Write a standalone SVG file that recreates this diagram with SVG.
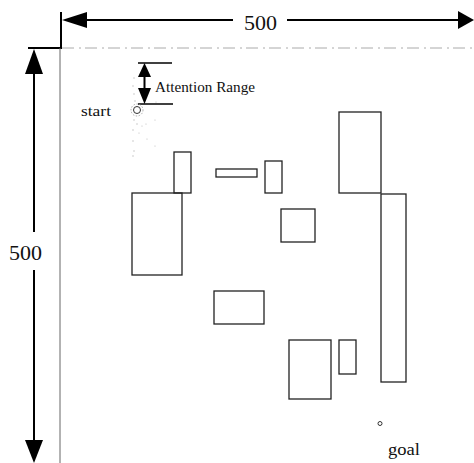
<svg xmlns="http://www.w3.org/2000/svg" width="474" height="463" viewBox="0 0 474 463">
<style>
.t{font-family:"Liberation Serif","Times New Roman",serif;fill:#111}
.dim{stroke:#000;stroke-width:2;fill:none}
.obs{fill:none;stroke:#222;stroke-width:1.3}
</style>
<rect width="474" height="463" fill="#fff"/>
<g id="connectors">
<line class="dim" x1="61" y1="12" x2="61" y2="48"/>
<path d="M62,20 L87,12 L87,28 Z" fill="#000"/>
<path d="M474,20 L458,11 L458,29 Z" fill="#000"/>
<line class="dim" x1="86" y1="20" x2="233" y2="20"/>
<line class="dim" x1="287" y1="20" x2="459" y2="20"/>
<line class="dim" x1="28" y1="48" x2="62" y2="48"/>
<path d="M34,49 L25,74 L43,74 Z" fill="#000"/>
<path d="M34,463 L25,440 L43,440 Z" fill="#000"/>
<line class="dim" x1="34" y1="73" x2="34" y2="232"/>
<line class="dim" x1="34" y1="270" x2="34" y2="441"/>
<line x1="62" y1="48" x2="474" y2="48" stroke="#aaa" stroke-width="1" stroke-dasharray="12,5,2,4"/>
<line x1="60" y1="48" x2="60" y2="463" stroke="#666" stroke-width="1"/>
<line x1="138" y1="63" x2="172" y2="63" stroke="#000" stroke-width="1.6"/>
<line x1="138" y1="104" x2="173" y2="104" stroke="#000" stroke-width="1.6"/>
<line x1="144.5" y1="74" x2="144.5" y2="90" stroke="#000" stroke-width="2"/>
<path d="M144.5,63 L138,77 L151,77 Z" fill="#000"/>
<path d="M144.5,104 L138,88 L151,88 Z" fill="#000"/>
</g>
<g id="attention-trace" fill="#bbb">
<circle cx="134" cy="78" r="0.7"/><circle cx="133" cy="86" r="0.7"/><circle cx="134" cy="94" r="0.7"/>
<circle cx="135" cy="101" r="0.7"/><circle cx="156" cy="102" r="0.6"/>
<circle cx="134" cy="120" r="0.7"/><circle cx="137" cy="124" r="0.7"/><circle cx="142" cy="126" r="0.6"/>
<circle cx="146" cy="124" r="0.6"/><circle cx="155" cy="120" r="0.6"/><circle cx="133" cy="130" r="0.7"/>
<circle cx="139" cy="133" r="0.6"/><circle cx="133" cy="141" r="0.7"/><circle cx="147" cy="139" r="0.6"/>
<circle cx="134" cy="151" r="0.7"/><circle cx="133" cy="156" r="0.7"/><circle cx="155" cy="146" r="0.6"/>
</g>
<g id="start">
<circle cx="137" cy="110" r="6" fill="none" stroke="#999" stroke-width="0.8" stroke-dasharray="1.5,1.5"/>
<circle cx="137" cy="110" r="3.5" fill="none" stroke="#333" stroke-width="1"/>
<text class="t" x="81" y="116" font-size="15" textLength="30" lengthAdjust="spacingAndGlyphs">start</text>
</g>
<g id="goal">
<circle cx="380" cy="423.5" r="2" fill="none" stroke="#333" stroke-width="1"/>
<text class="t" x="388" y="455" font-size="16" textLength="32" lengthAdjust="spacingAndGlyphs">goal</text>
</g>
<g id="label-top"><text class="t" x="244" y="30" font-size="22" textLength="33" lengthAdjust="spacingAndGlyphs">500</text></g>
<g id="label-left"><text class="t" x="9" y="260" font-size="21" textLength="33" lengthAdjust="spacingAndGlyphs">500</text></g>
<g id="label-attention"><text class="t" x="155" y="92" font-size="15" textLength="100" lengthAdjust="spacingAndGlyphs">Attention Range</text></g>
<g id="obstacle-1"><rect class="obs" x="174" y="152" width="17" height="41"/></g>
<g id="obstacle-2"><rect class="obs" x="132" y="193" width="50" height="82"/></g>
<g id="obstacle-3"><rect class="obs" x="216" y="169" width="41" height="8"/></g>
<g id="obstacle-4"><rect class="obs" x="265" y="161" width="17" height="32"/></g>
<g id="obstacle-5"><rect class="obs" x="281" y="209" width="34" height="33"/></g>
<g id="obstacle-6"><rect class="obs" x="339" y="112" width="42" height="81"/></g>
<g id="obstacle-7"><rect class="obs" x="381" y="194" width="25" height="188"/></g>
<g id="obstacle-8"><rect class="obs" x="214" y="291" width="50" height="33"/></g>
<g id="obstacle-9"><rect class="obs" x="289" y="340" width="42" height="59"/></g>
<g id="obstacle-10"><rect class="obs" x="339" y="340" width="17" height="34"/></g>
</svg>
